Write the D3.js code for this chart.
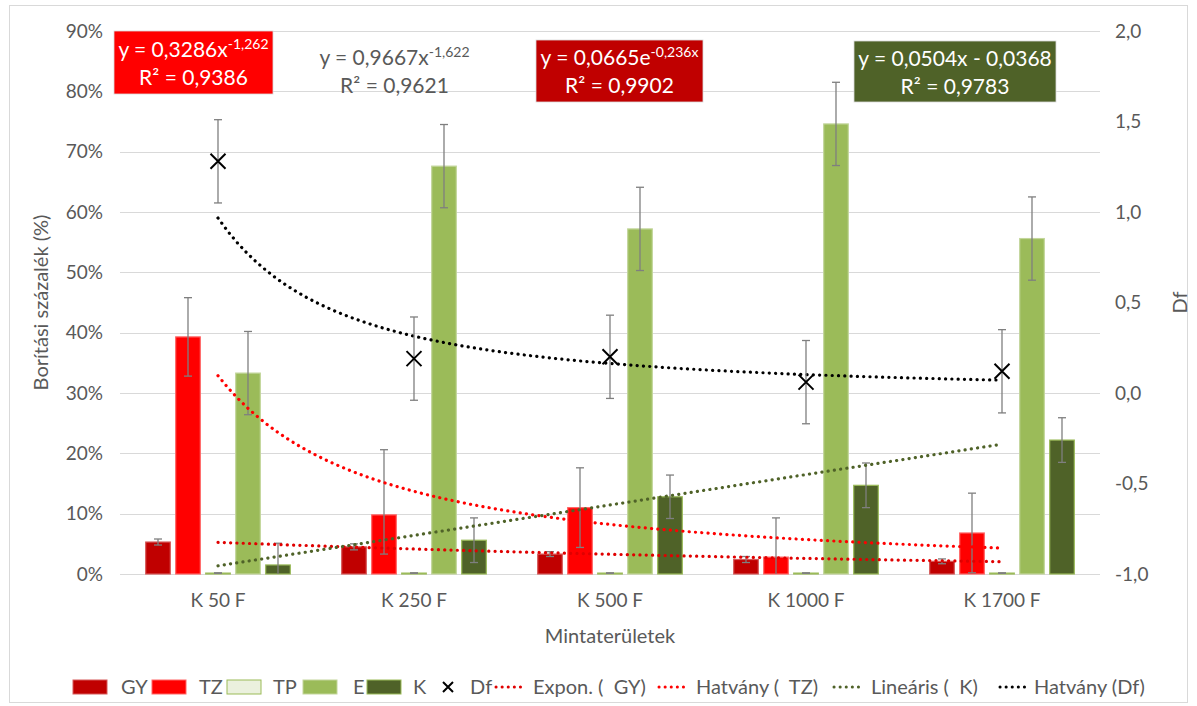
<!DOCTYPE html>
<html>
<head>
<meta charset="utf-8">
<script src="https://cdn.jsdelivr.net/npm/d3@7"></script>
<style>
  html, body { margin: 0; padding: 0; background: #fff; }
  svg { display: block; font-family: Lato, "Liberation Sans", sans-serif; }
</style>
</head>
<body>
<svg id="chart" width="1197" height="706"></svg>
<script>
// ---- data ----
const categories = ["K 50 F", "K 250 F", "K 500 F", "K 1000 F", "K 1700 F"];
const seriesKeys = ["GY", "TZ", "TP", "E", "K"];

// cover percentages (fractions) per sampling area
const gyValues = [0.053, 0.045, 0.033, 0.024, 0.021];
const tzValues = [0.393, 0.098, 0.110, 0.028, 0.068];
const tpValues = [0.0015, 0.0015, 0.0015, 0.0015, 0.0015];
const eValues  = [0.333, 0.676, 0.572, 0.746, 0.556];
const kValues  = [0.015, 0.056, 0.128, 0.147, 0.222];

// error bar half-widths (upper / lower)
const gyErrUp = [0.005, 0.005, 0.004, 0.005, 0.004];
const gyErrDn = [0.005, 0.005, 0.004, 0.005, 0.004];
const tzErrUp = [0.065, 0.108, 0.066, 0.065, 0.066];
const tzErrDn = [0.065, 0.065, 0.066, 0.065, 0.066];
const tpErrUp = [0.0005, 0.0005, 0.0005, 0.0005, 0.0005];
const tpErrDn = [0.0005, 0.0005, 0.0005, 0.0005, 0.0005];
const eErrUp  = [0.069, 0.069, 0.069, 0.069, 0.069];
const eErrDn  = [0.069, 0.069, 0.069, 0.069, 0.069];
const kErrUp  = [0.036, 0.037, 0.036, 0.037, 0.037];
const kErrDn  = [0.036, 0.037, 0.036, 0.037, 0.037];

// fractal dimension (secondary axis)
const dfValues = [1.28, 0.19, 0.20, 0.06, 0.12];
const dfErr    = [0.23, 0.23, 0.23, 0.23, 0.23];

// tick labels
const leftTicks  = [0, 0.1, 0.2, 0.3, 0.4, 0.5, 0.6, 0.7, 0.8, 0.9];
const rightTicks = [-1.0, -0.5, 0.0, 0.5, 1.0, 1.5, 2.0];

// fitted trendlines: GY exponential, TZ power, K linear, Df power
const trendSeries = ["GY", "TZ", "K", "Df"];
const trendTypes  = ["exp", "pow", "lin", "pow"];
const trendNames  = ["Expon. (  GY)", "Hatvány (  TZ)", "Lineáris (  K)", "Hatvány (Df)"];
const trendA      = [0.0665, 0.3286, 0.0504, 0.9667];
const trendB      = [-0.236, -1.262, -0.0368, -1.622];
const trendR2     = [0.9902, 0.9386, 0.9783, 0.9621];

// ---- styling ----
const seriesFill   = { GY: "#c00000", TZ: "#ff0000", TP: "#ebf1de", E: "#9bbb59", K: "#4f6228" };
const seriesStroke = { GY: "#d65a5a", TZ: "#ff6666", TP: "#9bbb59", E: "#c3d69b", K: "#9bbb59" };
const trendColor   = ["#e00000", "#ff0000", "#4f6228", "#000000"];
const textColor    = "#595959";
const gridColor    = "#d9d9d9";

const svg = d3.select("#chart");
const W = 1197, H = 706;
const plot = { left: 120, right: 1100, top: 31, bottom: 574 };

// chart border
svg.append("rect")
  .attr("x", 9.5).attr("y", 5.5).attr("width", W - 19).attr("height", H - 9)
  .attr("fill", "#fff").attr("stroke", gridColor).attr("stroke-width", 1);

// ---- scales ----
const x0 = d3.scaleBand().domain(categories).range([plot.left, plot.right]).padding(0);
const x1 = d3.scaleBand().domain(seriesKeys).range([23, 173]).paddingInner(0.18).paddingOuter(0.09);
const yL = d3.scaleLinear().domain([0, 0.9]).range([plot.bottom, plot.top]);
const yR = d3.scaleLinear().domain([-1, 2]).range([plot.bottom, plot.top]);
// trendline x (1..5) sits on category centres
const xIdx = d3.scaleLinear().domain([1, categories.length])
  .range([x0(categories[0]) + x0.bandwidth() / 2, x0(categories[categories.length - 1]) + x0.bandwidth() / 2]);

// ---- gridlines ----
svg.append("g").selectAll("line").data(leftTicks).join("line")
  .attr("x1", plot.left).attr("x2", plot.right)
  .attr("y1", d => Math.round(yL(d)) + 0.5).attr("y2", d => Math.round(yL(d)) + 0.5)
  .attr("stroke", gridColor).attr("stroke-width", 1);

// ---- axes ----
const pctFmt = d3.format(".0%");
const decFmt = d => d.toFixed(1).replace(".", ",");

const axL = svg.append("g").attr("transform", `translate(${plot.left},0)`)
  .call(d3.axisLeft(yL).tickValues(leftTicks).tickFormat(pctFmt).tickSize(0).tickPadding(17));
const axR = svg.append("g").attr("transform", `translate(${plot.right},0)`)
  .call(d3.axisRight(yR).tickValues(rightTicks).tickFormat(decFmt).tickSize(0).tickPadding(15));
const axB = svg.append("g").attr("transform", `translate(0,${plot.bottom})`)
  .call(d3.axisBottom(x0).tickSize(0).tickPadding(20));
[axL, axR, axB].forEach(a => {
  a.select(".domain").remove();
  a.selectAll("text").attr("fill", textColor).style("font-size", "19px").style("font-family", "Lato, sans-serif");
});

// axis titles
svg.append("text")
  .attr("transform", `translate(48,${(plot.top + plot.bottom) / 2}) rotate(-90)`)
  .attr("text-anchor", "middle").attr("fill", textColor).style("font-size", "20px")
  .text("Borítási százalék (%)");
svg.append("text")
  .attr("transform", `translate(1187,${(plot.top + plot.bottom) / 2}) rotate(-90)`)
  .attr("text-anchor", "middle").attr("fill", textColor).style("font-size", "20px")
  .text("Df");
svg.append("text")
  .attr("x", (plot.left + plot.right) / 2).attr("y", 643)
  .attr("text-anchor", "middle").attr("fill", textColor).style("font-size", "20px")
  .text("Mintaterületek");

// ---- bars ----
const valuesBy = { GY: gyValues, TZ: tzValues, TP: tpValues, E: eValues, K: kValues };
const errUpBy  = { GY: gyErrUp, TZ: tzErrUp, TP: tpErrUp, E: eErrUp, K: kErrUp };
const errDnBy  = { GY: gyErrDn, TZ: tzErrDn, TP: tpErrDn, E: eErrDn, K: kErrDn };

const barRows = [];
categories.forEach((c, i) => seriesKeys.forEach(k => barRows.push({
  cat: c, key: k, v: valuesBy[k][i], up: errUpBy[k][i], dn: errDnBy[k][i]
})));

svg.append("g").selectAll("rect").data(barRows).join("rect")
  .attr("x", d => x0(d.cat) + x1(d.key))
  .attr("width", x1.bandwidth())
  .attr("y", d => yL(d.v))
  .attr("height", d => yL(0) - yL(d.v))
  .attr("fill", d => seriesFill[d.key])
  .attr("stroke", d => seriesStroke[d.key])
  .attr("stroke-width", 1.2);

// clip for error bars
svg.append("clipPath").attr("id", "plotClip").append("rect")
  .attr("x", plot.left).attr("y", plot.top - 20)
  .attr("width", plot.right - plot.left).attr("height", plot.bottom - plot.top + 20);

const errColor = "#7f7f7f";
const errG = svg.append("g").attr("clip-path", "url(#plotClip)");
const capHalf = 4;
barRows.forEach(d => {
  const cx = x0(d.cat) + x1(d.key) + x1.bandwidth() / 2;
  const yTop = yL(d.v + d.up), yBot = yL(d.v - d.dn);
  errG.append("line").attr("x1", cx).attr("x2", cx).attr("y1", yTop).attr("y2", yBot)
    .attr("stroke", errColor).attr("stroke-width", 1.3);
  [yTop, yBot].forEach(yy => errG.append("line")
    .attr("x1", cx - capHalf).attr("x2", cx + capHalf).attr("y1", yy).attr("y2", yy)
    .attr("stroke", errColor).attr("stroke-width", 1.3));
});

// ---- trendlines ----
function trendValue(i, t) {
  const a = trendA[i], b = trendB[i];
  if (trendTypes[i] === "exp") return a * Math.exp(b * t);
  if (trendTypes[i] === "pow") return a * Math.pow(t, b);
  return a * t + b;
}
const samples = d3.range(1, 5.0001, 0.05);
trendSeries.forEach((s, i) => {
  const yScale = s === "Df" ? yR : yL;
  const line = d3.line().x(t => xIdx(t)).y(t => yScale(trendValue(i, t)));
  svg.append("path").datum(samples).attr("d", line)
    .attr("fill", "none").attr("stroke", trendColor[i]).attr("stroke-width", 3.2)
    .attr("stroke-linecap", "round").attr("stroke-dasharray", "0.1 6.2");
});

// ---- Df error bars and markers ----
const dfG = svg.append("g");
dfValues.forEach((v, i) => {
  const cx = x0(categories[i]) + x0.bandwidth() / 2;
  const yTop = yR(v + dfErr[i]), yBot = yR(v - dfErr[i]);
  dfG.append("line").attr("x1", cx).attr("x2", cx).attr("y1", yTop).attr("y2", yBot)
    .attr("stroke", errColor).attr("stroke-width", 1.3);
  [yTop, yBot].forEach(yy => dfG.append("line")
    .attr("x1", cx - capHalf).attr("x2", cx + capHalf).attr("y1", yy).attr("y2", yy)
    .attr("stroke", errColor).attr("stroke-width", 1.3));
  const cy = yR(v), s = 7.5;
  dfG.append("path").attr("d", `M${cx - s},${cy - s}L${cx + s},${cy + s}M${cx - s},${cy + s}L${cx + s},${cy - s}`)
    .attr("stroke", "#000").attr("stroke-width", 2).attr("fill", "none");
});

// ---- trendline equation labels ----
const fmtN = (v, d) => v.toFixed(d).replace(".", ",");
const labelCx   = [619.5, 193.5, 955, 394.5];
const labelCy   = [71, 62.5, 71.5, 71];
const labelW    = [167, 159, 202, 0];
const labelH    = [62, 63, 61, 0];
const labelFill = ["#c00000", "#ff0000", "#4f6228", null];
const labelInk  = ["#ffffff", "#ffffff", "#ffffff", textColor];

trendSeries.forEach((s, i) => {
  const g = svg.append("g");
  const cx = labelCx[i], cy = labelCy[i];
  if (labelFill[i]) {
    g.append("rect").attr("x", cx - labelW[i] / 2).attr("y", cy - labelH[i] / 2)
      .attr("width", labelW[i]).attr("height", labelH[i])
      .attr("fill", labelFill[i]).attr("stroke", "#d9d9d9").attr("stroke-width", 0.8);
  }
  const t1 = g.append("text").attr("x", cx).attr("y", cy - 6).attr("text-anchor", "middle")
    .attr("fill", labelInk[i]).style("font-size", "21px");
  const a = trendA[i], b = trendB[i];
  if (trendTypes[i] === "lin") {
    t1.append("tspan").text(`y = ${fmtN(a, 4)}x ${b < 0 ? "-" : "+"} ${fmtN(Math.abs(b), 4)}`);
  } else {
    t1.append("tspan").text(`y = ${fmtN(a, 4)}${trendTypes[i] === "exp" ? "e" : "x"}`);
    t1.append("tspan").attr("dy", -8).style("font-size", "14px")
      .text(fmtN(b, 3) + (trendTypes[i] === "exp" ? "x" : ""));
  }
  g.append("text").attr("x", cx).attr("y", cy + 22).attr("text-anchor", "middle")
    .attr("fill", labelInk[i]).style("font-size", "21px")
    .text(`R² = ${fmtN(trendR2[i], 4)}`);
});

// ---- legend ----
const legendItems = [
  ...seriesKeys.map(k => ({ type: "rect", key: k, label: k })),
  { type: "x", label: "Df" },
  ...trendSeries.map((s, i) => ({ type: "line", idx: i, label: trendNames[i] }))
];
// symbol start and text start for each entry
const legendSymX  = [73, 152, 227, 303, 367, 431, 494, 657, 832, 998];
const legendTextX = [121, 199, 273, 353, 413, 470, 533, 696, 871, 1034];
const legY = 687;
const legG = svg.append("g").style("font-size", "20px");
legendItems.forEach((it, j) => {
  const sx = legendSymX[j];
  if (it.type === "rect") {
    legG.append("rect").attr("x", sx).attr("y", legY - 7).attr("width", 34).attr("height", 14)
      .attr("fill", seriesFill[it.key]).attr("stroke", seriesStroke[it.key]).attr("stroke-width", 1);
  } else if (it.type === "x") {
    const cx = sx + 17, s = 5;
    legG.append("path").attr("d", `M${cx - s},${legY - s}L${cx + s},${legY + s}M${cx - s},${legY + s}L${cx + s},${legY - s}`)
      .attr("stroke", "#000").attr("stroke-width", 2);
  } else {
    legG.append("line").attr("x1", sx + 2).attr("x2", sx + 32).attr("y1", legY).attr("y2", legY)
      .attr("stroke", trendColor[it.idx]).attr("stroke-width", 3).attr("stroke-linecap", "round")
      .attr("stroke-dasharray", "0.1 6");
  }
  legG.append("text").attr("x", legendTextX[j]).attr("y", legY).attr("dy", "0.35em")
    .attr("fill", textColor).attr("xml:space", "preserve").style("white-space", "pre").text(it.label);
});
</script>
</body>
</html>
